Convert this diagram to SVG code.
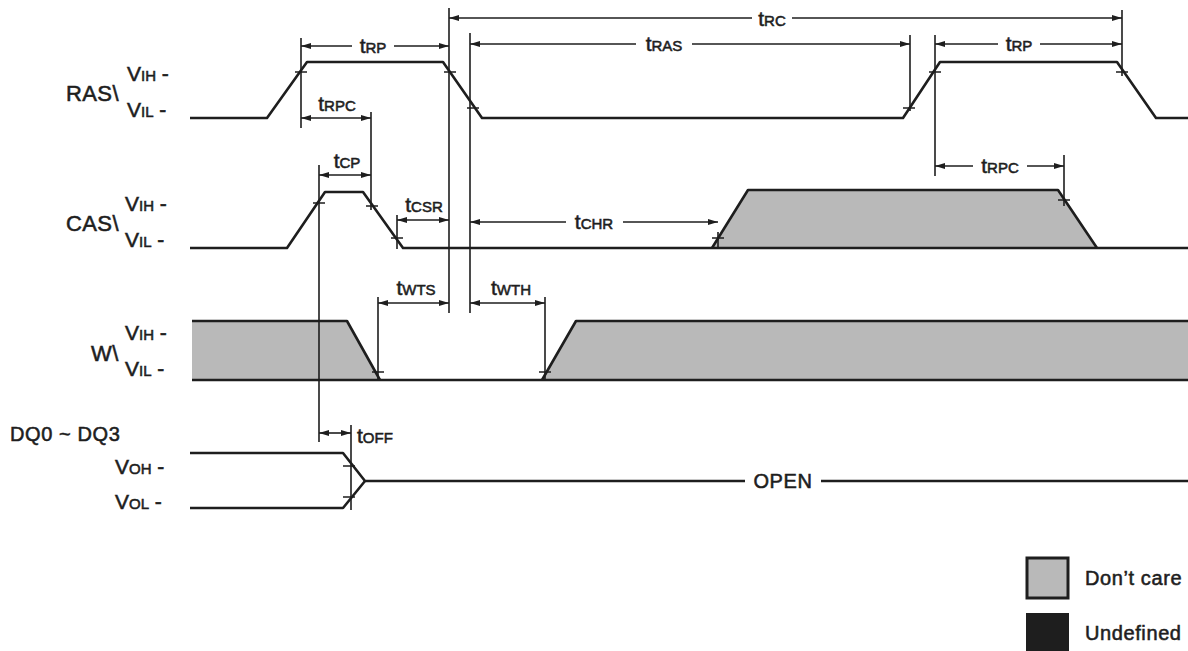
<svg xmlns="http://www.w3.org/2000/svg" width="1188" height="651" viewBox="0 0 1188 651">
<style>
text{font-family:"Liberation Sans",Arial,sans-serif;fill:#1e1e1e;stroke:#1e1e1e;stroke-width:0.55px}
.lbl{font-size:20px;letter-spacing:0.6px}
.sn{font-size:22px;letter-spacing:0.4px}
.vb{font-size:21px}
.vs{font-size:15px}
.tt{font-size:21px}
.ts{font-size:15px}
.sig{fill:none;stroke:#1e1e1e;stroke-width:2.6;stroke-linejoin:round}
.dc{fill:#b9b9b9;stroke:none}
.ext{fill:none;stroke:#1e1e1e;stroke-width:1.6}
.tick{fill:none;stroke:#1e1e1e;stroke-width:1.6}
.arr{fill:none;stroke:#1e1e1e;stroke-width:1.6;marker-end:url(#ah)}
.arr2{fill:none;stroke:#1e1e1e;stroke-width:1.6;marker-start:url(#ah);marker-end:url(#ah)}
</style>
<defs>
<marker id="ah" viewBox="0 0 10 6" refX="10" refY="3" markerWidth="10" markerHeight="6" markerUnits="userSpaceOnUse" orient="auto-start-reverse">
<path d="M0,0 L10,3 L0,6 z" fill="#1e1e1e"/>
</marker>
</defs>
<rect width="1188" height="651" fill="#ffffff"/>

<g id="ras">
<text class="sn" x="66" y="101">RAS\</text>
<text x="127" y="81"><tspan class="vb">V</tspan><tspan class="vs">IH</tspan><tspan class="vb"> -</tspan></text>
<text x="127" y="117"><tspan class="vb">V</tspan><tspan class="vs">IL</tspan><tspan class="vb"> -</tspan></text>
<path class="sig" d="M190,118 L267,118 L307,62 L443,62 L482,118 L903,118 L940,62 L1117,62 L1156,118 L1188,118"/>
</g>

<g id="cas">
<text class="sn" x="66" y="231">CAS\</text>
<text x="125" y="211"><tspan class="vb">V</tspan><tspan class="vs">IH</tspan><tspan class="vb"> -</tspan></text>
<text x="125" y="247"><tspan class="vb">V</tspan><tspan class="vs">IL</tspan><tspan class="vb"> -</tspan></text>
<path class="dc" d="M712,248 L748,190 L1058,190 L1097,248 z"/>
<path class="sig" d="M190,248 L287,248 L325,192 L363,192 L403,248 L1188,248"/>
<path class="sig" d="M712,248 L748,190 L1058,190 L1097,248"/>
</g>

<g id="w">
<text class="sn" x="91" y="361">W\</text>
<text x="125" y="340"><tspan class="vb">V</tspan><tspan class="vs">IH</tspan><tspan class="vb"> -</tspan></text>
<text x="125" y="376"><tspan class="vb">V</tspan><tspan class="vs">IL</tspan><tspan class="vb"> -</tspan></text>
<path class="dc" d="M192,321 L347,321 L380,380 L192,380 z"/>
<path class="dc" d="M542,380 L576,321 L1188,321 L1188,380 z"/>
<path class="sig" d="M192,321 L347,321 L380,380"/>
<path class="sig" d="M542,380 L576,321 L1188,321"/>
<path class="sig" d="M192,380 L1188,380"/>
</g>

<g id="dq">
<text class="lbl" x="10" y="441">DQ0 ~ DQ3</text>
<text x="115" y="474"><tspan class="vb">V</tspan><tspan class="vs">OH</tspan><tspan class="vb"> -</tspan></text>
<text x="115" y="509"><tspan class="vb">V</tspan><tspan class="vs">OL</tspan><tspan class="vb"> -</tspan></text>
<path class="sig" d="M190,453 L343,453 L365,481 L745,481"/>
<path class="sig" d="M190,508 L343,508 L365,481"/>
<path class="sig" d="M821,481 L1188,481"/>
<text class="lbl" x="783" y="488" text-anchor="middle">OPEN</text>
</g>

<g id="legend">
<rect x="1027" y="558" width="41" height="40" fill="#b9b9b9" stroke="#1e1e1e" stroke-width="3"/>
<text class="lbl" x="1085" y="585">Don’t care</text>
<rect x="1026" y="613" width="43" height="38" fill="#1e1e1e"/>
<text class="lbl" x="1085" y="640">Undefined</text>
</g>

<g id="connectors">
<path class="ext" d="M301,38 V128 M371,112 V210 M449,8 V313 M470,33 V313 M319,165 V442 M397,215 V249 M378,297 V380 M545,297 V380 M718,232 V249 M910,35 V111 M935,35 V176 M1122,10 V76 M1064,155 V206 M351,425 V510"/>
<path class="tick" d="M295,72 H307 M444,72 H456 M467,108 H479 M903,108 H915 M929,72 H941 M1116,72 H1128 M313,203 H325 M366,206 H378 M391,238 H403 M712,238 H724 M1058,200 H1070 M372,372 H384 M539,372 H551 M343,466 H355 M343,497 H355"/>
<path class="arr" d="M752,18 H449"/><path class="arr" d="M792,18 H1122"/>
<text x="772" y="26" text-anchor="middle"><tspan class="tt">t</tspan><tspan class="ts">RC</tspan></text>
<path class="arr" d="M352,46 H301"/><path class="arr" d="M394,46 H449"/>
<text x="373" y="53" text-anchor="middle"><tspan class="tt">t</tspan><tspan class="ts">RP</tspan></text>
<path class="arr" d="M636,44 H470"/><path class="arr" d="M692,44 H910"/>
<text x="664" y="51" text-anchor="middle"><tspan class="tt">t</tspan><tspan class="ts">RAS</tspan></text>
<path class="arr" d="M998,44 H935"/><path class="arr" d="M1040,44 H1122"/>
<text x="1019" y="51" text-anchor="middle"><tspan class="tt">t</tspan><tspan class="ts">RP</tspan></text>
<path class="arr2" d="M301,118 H371"/>
<text x="337" y="111" text-anchor="middle"><tspan class="tt">t</tspan><tspan class="ts">RPC</tspan></text>
<path class="arr2" d="M319,175 H371"/>
<text x="347" y="168" text-anchor="middle"><tspan class="tt">t</tspan><tspan class="ts">CP</tspan></text>
<path class="arr2" d="M397,220 H449"/>
<text x="424" y="212" text-anchor="middle"><tspan class="tt">t</tspan><tspan class="ts">CSR</tspan></text>
<path class="arr" d="M566,222 H470"/><path class="arr" d="M623,222 H718"/>
<text x="594" y="229" text-anchor="middle"><tspan class="tt">t</tspan><tspan class="ts">CHR</tspan></text>
<path class="arr" d="M973,166 H935"/><path class="arr" d="M1027,166 H1064"/>
<text x="1000" y="173" text-anchor="middle"><tspan class="tt">t</tspan><tspan class="ts">RPC</tspan></text>
<path class="arr2" d="M378,303 H449"/>
<text x="416" y="295" text-anchor="middle"><tspan class="tt">t</tspan><tspan class="ts">WTS</tspan></text>
<path class="arr2" d="M470,303 H545"/>
<text x="511" y="295" text-anchor="middle"><tspan class="tt">t</tspan><tspan class="ts">WTH</tspan></text>
<path class="arr2" d="M319,433 H351"/>
<text x="357" y="443"><tspan class="tt">t</tspan><tspan class="ts">OFF</tspan></text>
</g>
</svg>
